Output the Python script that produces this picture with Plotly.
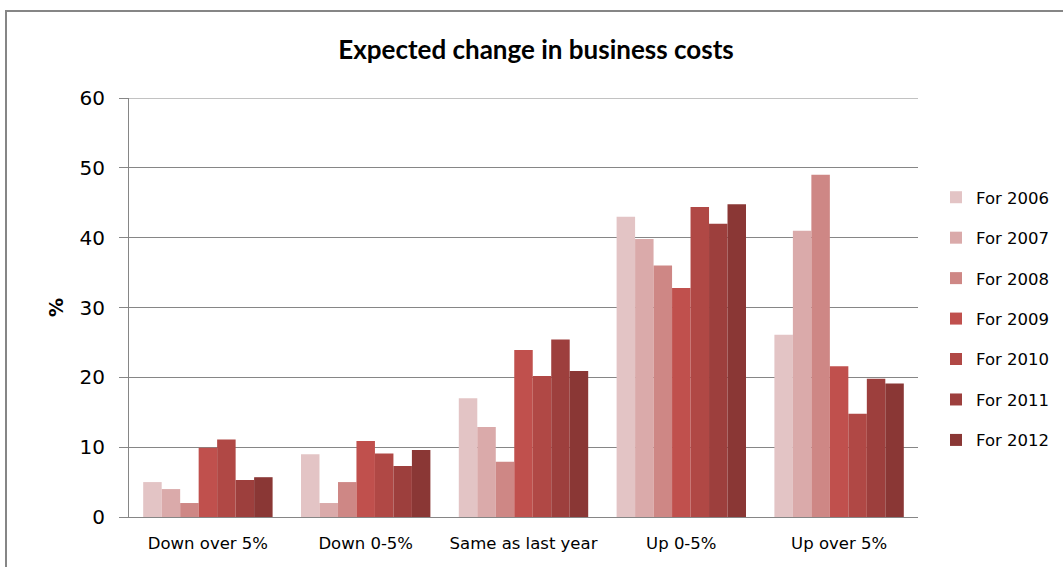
import plotly.graph_objects as go

categories = ["Down over 5%", "Down 0-5%", "Same as last year", "Up 0-5%", "Up over 5%"]
series_names = ["For 2006", "For 2007", "For 2008", "For 2009", "For 2010", "For 2011", "For 2012"]

for_2006 = [5, 9, 17, 43, 26.1]
for_2007 = [4, 2, 12.9, 39.8, 41]
for_2008 = [2, 5, 7.9, 36, 49]
for_2009 = [9.9, 10.9, 23.9, 32.8, 21.6]
for_2010 = [11.1, 9.1, 20.2, 44.4, 14.8]
for_2011 = [5.3, 7.3, 25.4, 42, 19.8]
for_2012 = [5.7, 9.6, 20.9, 44.8, 19.1]

series_values = [for_2006, for_2007, for_2008, for_2009, for_2010, for_2011, for_2012]
colors = ["#E3C4C5", "#DAAAAA", "#CE8785", "#C0504D", "#B04845", "#9D3F3D", "#8A3735"]

y_ticks = [0, 10, 20, 30, 40, 50, 60]

fig = go.Figure()
for name, vals, col in zip(series_names, series_values, colors):
    fig.add_trace(go.Bar(
        x=categories, y=vals, name=name, marker_color=col,
        marker_line_width=0, legendgroup=name,
    ))

W, H = 1063, 567
ml, mr, mt, mb = 129, 145, 98, 50
pw, ph = W - ml - mr, H - mt - mb

def px_x(x):
    return (x - ml) / pw

def px_y(y):
    return (H - mb - y) / ph

grid_col = "#868686"

fig.update_layout(
    width=W, height=H,
    margin=dict(l=ml, r=mr, t=mt, b=mb, autoexpand=False),
    paper_bgcolor="white", plot_bgcolor="white",
    barmode="group", bargap=0.18, bargroupgap=0,
    title=dict(
        text="<b>Expected change in business costs</b>",
        x=px_x(536), xref="paper", xanchor="center",
        y=1 - 50 / H, yref="container", yanchor="middle",
        font=dict(family="Lato", size=26, color="#000000"),
    ),
    xaxis=dict(
        showline=True, linecolor=grid_col, linewidth=1,
        ticks="", showgrid=False, ticklabelstandoff=11,
        tickfont=dict(family="DejaVu Sans", size=16.5, color="#000000"),
    ),
    yaxis=dict(
        range=[0, 60], tickvals=y_ticks, ticktext=[str(v) for v in y_ticks],
        showline=True, linecolor=grid_col, linewidth=1,
        ticks="outside", ticklen=9, tickcolor=grid_col,
        ticklabelstandoff=10,
        tickfont=dict(family="DejaVu Sans", size=20, color="#000000"),
        showgrid=True, gridcolor=grid_col, gridwidth=1,
        zeroline=False,
        title=dict(text="<b>%</b>", font=dict(family="DejaVu Sans", size=19, color="#000000"), standoff=10),
    ),
    legend=dict(
        x=px_x(936), xanchor="left", y=px_y(180), yanchor="top",
        font=dict(family="DejaVu Sans", size=16.5, color="#000000"),
        tracegroupgap=16, itemwidth=30, traceorder="grouped",
        bgcolor="rgba(0,0,0,0)",
    ),
    shapes=[
        dict(
            type="rect", xref="paper", yref="paper",
            x0=px_x(6), y0=px_y(575), x1=px_x(1075), y1=px_y(11),
            line=dict(color=grid_col, width=2), fillcolor="rgba(0,0,0,0)", layer="below",
        ),
        dict(
            type="line", xref="paper", yref="y",
            x0=0, x1=1, y0=y_ticks[-1], y1=y_ticks[-1],
            line=dict(color=grid_col, width=1), layer="below",
        ),
    ],
)

fig.write_html("out.html")
